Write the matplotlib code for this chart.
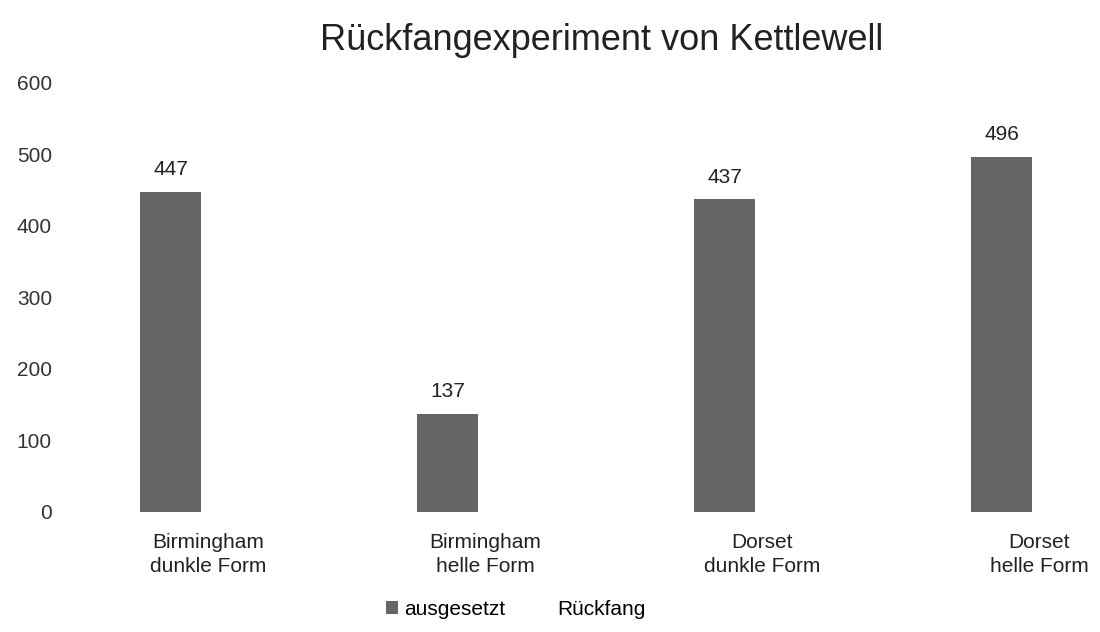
import numpy as np
import matplotlib
matplotlib.use('Agg')
import matplotlib.pyplot as plt
from matplotlib.patches import Patch

plt.rcParams['font.family'] = ['Liberation Sans', 'DejaVu Sans']

# Data
categories = ['Birmingham\ndunkle Form', 'Birmingham\nhelle Form',
              'Dorset\ndunkle Form', 'Dorset\nhelle Form']
ausgesetzt = [447, 137, 437, 496]
series_names = ['ausgesetzt', 'Rückfang']
y_ticks = [0, 100, 200, 300, 400, 500, 600]

bar_color = '#656565'

fig = plt.figure(figsize=(11, 6.32), dpi=100)
ax = fig.add_axes([0.0636, 0.19, 0.9364, 0.6788])

x = np.arange(len(categories))
bars = ax.bar(x - 0.135, ausgesetzt, width=0.22, color=bar_color)

# value labels above bars
for b, v in zip(bars, ausgesetzt):
    ax.text(b.get_x() + b.get_width() / 2, v + 18, str(v),
            ha='center', va='bottom', fontsize=15, color='#222222')

ax.set_xlim(-0.498, 3.22)
ax.set_ylim(0, 600)
ax.set_yticks(y_ticks)
ax.set_yticklabels([str(t) for t in y_ticks], fontsize=15, color='#333333')
ax.set_xticks(x)
ax.set_xticklabels(categories, fontsize=15, color='#222222', linespacing=1.35)
ax.tick_params(axis='both', length=0)
ax.tick_params(axis='y', pad=13)
ax.tick_params(axis='x', pad=15)
for s in ax.spines.values():
    s.set_visible(False)

fig.text(0.547, 1 - 40 / 632, 'Rückfangexperiment von Kettlewell', fontsize=26,
         ha='center', va='center', color='#222222')

handles = [Patch(facecolor=bar_color, edgecolor='none'),
           Patch(facecolor='white', edgecolor='none')]
fig.legend(handles, series_names, loc='lower center', bbox_to_anchor=(0.469, -0.009),
           ncol=2, frameon=False, fontsize=15, handlelength=0.6, handleheight=0.6,
           handletextpad=0.3, columnspacing=1.6)

fig.savefig('out.png', dpi=100)
